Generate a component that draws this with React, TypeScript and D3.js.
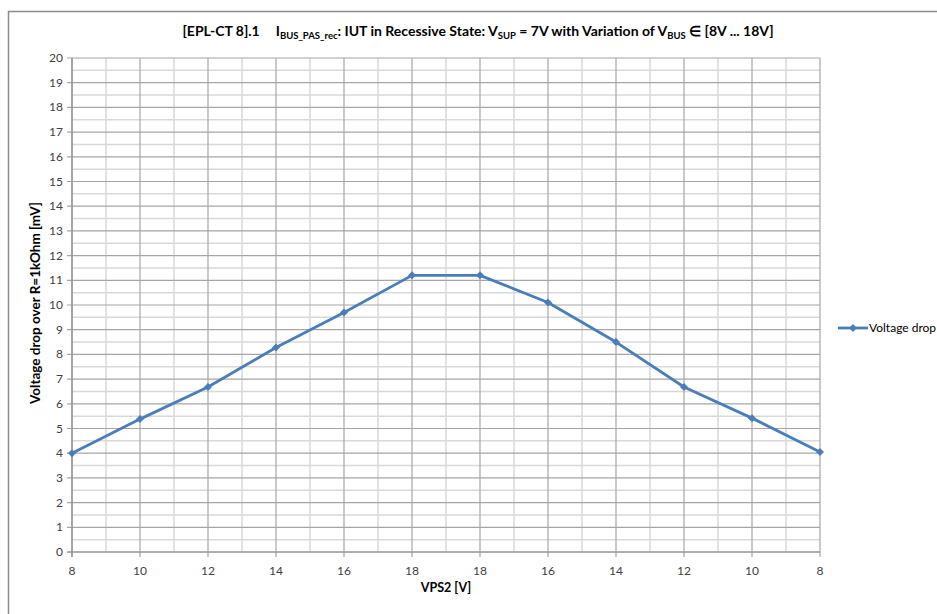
import React from "react";
import * as d3 from "d3";

const categories = ["8", "10", "12", "14", "16", "18", "18", "16", "14", "12", "10", "8"];
const voltageDrop = [4.0, 5.38, 6.68, 8.28, 9.7, 11.2, 11.2, 10.1, 8.5, 6.68, 5.42, 4.05];
const yTicks = d3.range(0, 21, 1);
const seriesName = "Voltage drop";

const W = 937, H = 614;
const m = { left: 72, right: 820, top: 58, bottom: 552 };
const FONT = "Lato, 'Open Sans', sans-serif";

export default function App() {
  const idx = categories.map((_, i) => i);
  const x = d3.scaleLinear().domain([0, categories.length - 1]).range([m.left, m.right]);
  const y = d3.scaleLinear().domain([0, 20]).range([m.bottom, m.top]);
  const line = d3.line<number>().x((_, i) => x(i)).y((d) => y(d));
  const minorY = d3.range(0.5, 20, 1);
  const minorX = d3.range(0.5, categories.length - 1, 1);
  const diamond = (cx: number, cy: number, r = 4) =>
    `M${cx},${cy - r}L${cx + r},${cy}L${cx},${cy + r}L${cx - r},${cy}Z`;
  const color = "#4a7ebb";
  return (
    <svg width={W} height={H} style={{ position: "absolute", left: 0, top: 0 }}>
      <rect x={0} y={0} width={W} height={H} fill="#fff" />
      <rect x={8.5} y={11.5} width={W + 20} height={H + 20} fill="none" stroke="#8c8c8c" strokeWidth={1.5} />
      <text x={478} y={36} textAnchor="middle" fontFamily={FONT} fontSize={14} fontWeight="bold" fill="#000">
        <tspan>[EPL-CT 8].1</tspan>
        <tspan dx={16}>I</tspan>
        <tspan fontSize={9.5} dy={3}>BUS_PAS_rec</tspan>
        <tspan dy={-3}>: IUT in Recessive State: V</tspan>
        <tspan fontSize={9.5} dy={3}>SUP</tspan>
        <tspan dy={-3}> = 7V with Variation of V</tspan>
        <tspan fontSize={9.5} dy={3}>BUS</tspan>
        <tspan dy={-3}> ∈ [8V ... 18V]</tspan>
      </text>
      {minorY.map((v) => (
        <line key={"my" + v} x1={m.left} x2={m.right} y1={y(v)} y2={y(v)} stroke="#d9d9d9" strokeWidth={1.5} />
      ))}
      {minorX.map((v) => (
        <line key={"mx" + v} x1={x(v)} x2={x(v)} y1={m.top} y2={m.bottom} stroke="#d9d9d9" strokeWidth={1.5} />
      ))}
      {yTicks.map((v) => (
        <line key={"gy" + v} x1={m.left - 5} x2={m.right} y1={y(v)} y2={y(v)} stroke="#a6a6a6" strokeWidth={1.2} />
      ))}
      {idx.map((i) => (
        <line key={"gx" + i} x1={x(i)} x2={x(i)} y1={m.top} y2={m.bottom + 5} stroke="#a6a6a6" strokeWidth={1.2} />
      ))}
      <line x1={m.left} x2={m.left} y1={m.top} y2={m.bottom + 5} stroke="#8c8c8c" strokeWidth={1.2} />
      <line x1={m.left - 5} x2={m.right} y1={m.bottom} y2={m.bottom} stroke="#8c8c8c" strokeWidth={1.2} />
      {yTicks.map((v) => (
        <text key={"ty" + v} x={m.left - 9} y={y(v) + 4} textAnchor="end" fontFamily={FONT} fontSize={12} fill="#404040">
          {v}
        </text>
      ))}
      {categories.map((c, i) => (
        <text key={"tx" + i} x={x(i)} y={575} textAnchor="middle" fontFamily={FONT} fontSize={12} fill="#404040">
          {c}
        </text>
      ))}
      <text x={446} y={592} textAnchor="middle" fontFamily={FONT} fontSize={12.5} fontWeight="bold" fill="#000">
        VPS2 [V]
      </text>
      <text
        transform={`translate(40,${(m.top + m.bottom) / 2 - 2}) rotate(-90)`}
        textAnchor="middle"
        fontFamily={FONT}
        fontSize={13.5}
        fontWeight="bold"
        fill="#000"
      >
        Voltage drop over R=1kOhm [mV]
      </text>
      <path d={line(voltageDrop) || ""} fill="none" stroke={color} strokeWidth={2.8} strokeLinejoin="round" />
      {voltageDrop.map((v, i) => (
        <path key={"p" + i} d={diamond(x(i), y(v))} fill={color} />
      ))}
      <line x1={838} x2={868} y1={328} y2={328} stroke={color} strokeWidth={2.8} />
      <path d={diamond(853, 328)} fill={color} />
      <text x={869} y={332} fontFamily={FONT} fontSize={12} fill="#000">
        {seriesName}
      </text>
    </svg>
  );
}
